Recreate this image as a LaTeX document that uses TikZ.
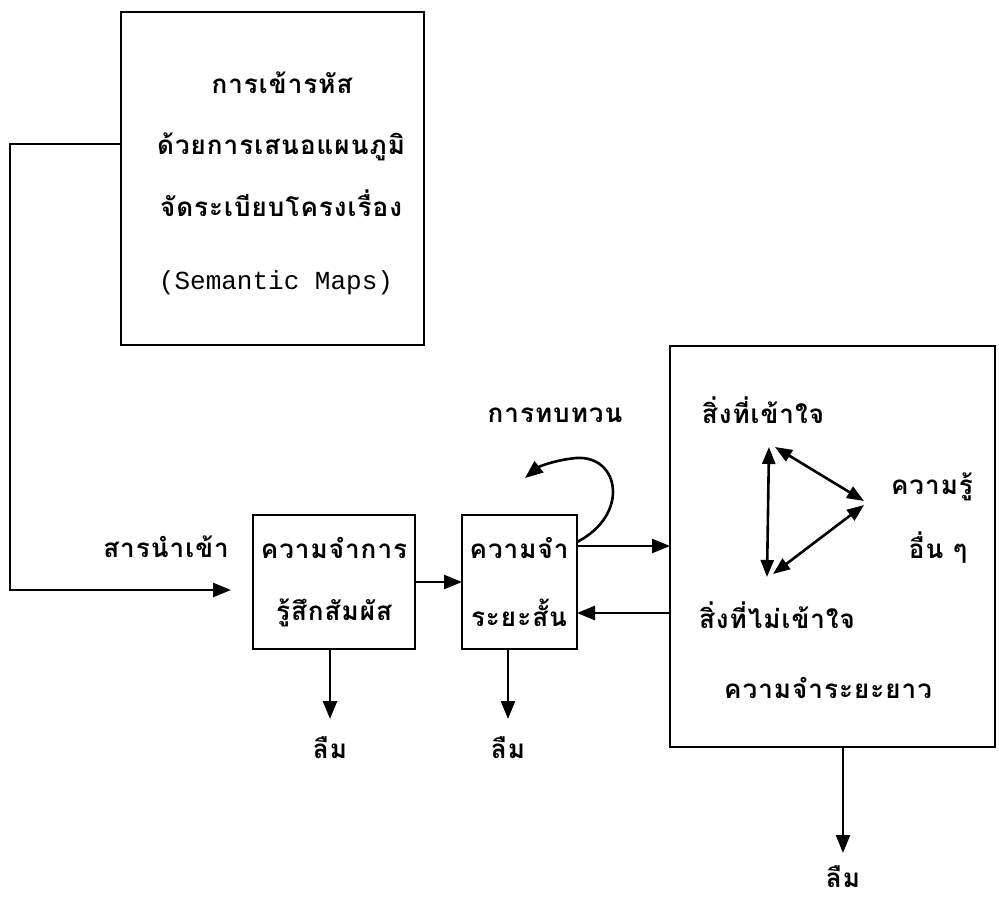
\documentclass[tikz,border=0pt]{standalone}
\usepackage{fontspec}
\newfontfamily\thaifont[Script=Thai,LetterSpace=4]{Loma}
\newfontfamily\latmono{Liberation Mono}
\usetikzlibrary{arrows.meta}
\tikzset{
  box/.style={draw, line width=2.8pt, inner sep=0pt, outer sep=0pt},
  lbl/.style={font=\thaifont\bfseries\fontsize{26}{30}\selectfont, inner sep=0pt},
  arr/.style={line width=2.6pt, -{Triangle[length=18pt,width=14pt]}},
  darr/.style={line width=2.6pt, {Triangle[length=17pt,width=13pt]}-{Triangle[length=17pt,width=13pt]}}
}
\begin{document}
\begin{tikzpicture}[x=1pt,y=-1pt]
\useasboundingbox (0,0) rectangle (999,899);
% boxes
\node[box, minimum width=303pt, minimum height=333pt, anchor=north west] (enc) at (121,12) {};
\node[box, minimum width=162pt, minimum height=134pt, anchor=north west] (sens) at (253,515) {};
\node[box, minimum width=115pt, minimum height=134pt, anchor=north west] (stm) at (462,515) {};
\node[box, minimum width=325pt, minimum height=401pt, anchor=north west] (ltm) at (670,346) {};
% encoding box texts
\node[lbl] (e1) at (282,83) {การเข้ารหัส};
\node[lbl] (e2) at (281,147) {ด้วยการเสนอแผนภูมิ};
\node[lbl] (e3) at (281,203) {จัดระเบียบโครงเรื่อง};
\node[lbl, font=\latmono\fontsize{26}{30}\selectfont] (e4) at (276,283) {(Semantic Maps)};
% input
\node[lbl] (inp) at (166,547) {สารนำเข้า};
\coordinate (c1) at (10,144);
\coordinate (c2) at (10,590);
\coordinate (inend) at (231,590);
\draw[arr] (enc.west |- c1) -- (c1) -- (c2) -- (inend);
% sensory
\node[lbl] (s1) at (334,548) {ความจำการ};
\node[lbl] (s2) at (334,613) {รู้สึกสัมผัส};
% short term
\node[lbl] (m1) at (519,548) {ความจำ};
\node[lbl] (m2) at (519,613) {ระยะสั้น};
\node[lbl] (rev) at (555,415) {การทบทวน};
% long term
\node[lbl] (l1) at (763,410) {สิ่งที่เข้าใจ};
\node[lbl] (l2) at (932,487) {ความรู้};
\node[lbl] (l3) at (938,548) {อื่น ๆ};
\node[lbl] (l4) at (777,615) {สิ่งที่ไม่เข้าใจ};
\node[lbl] (l5) at (828,688) {ความจำระยะยาว};
% forget
\node[lbl] (f1) at (330,748) {ลืม};
\node[lbl] (f2) at (508,748) {ลืม};
\node[lbl] (f3) at (843,877) {ลืม};
% connectors
\draw[arr] (sens.east) -- (stm.west);
\coordinate (ya) at (0,546);
\coordinate (yb) at (0,613);
\draw[arr] (stm.east |- ya) -- (ltm.west |- ya);
\draw[arr] (ltm.west |- yb) -- (stm.east |- yb);
\coordinate (ls) at (0,542);
\coordinate (le) at (525,478);
\draw[arr] (stm.east |- ls) .. controls (630,515) and (620,455) .. (576,458) .. controls (556,460) and (540,466) .. (le);
\coordinate (d1) at (330,719);
\coordinate (d2) at (508,719);
\coordinate (d3) at (843,853);
\draw[arr] (sens.south -| d1) -- (d1);
\draw[arr] (stm.south -| d2) -- (d2);
\draw[arr] (ltm.south -| d3) -- (d3);
% triangle
\coordinate (t1) at (769,447);
\coordinate (t2) at (767,577);
\coordinate (t3a) at (864,501);
\coordinate (t3b) at (864,505);
\coordinate (t1b) at (775,447);
\coordinate (t2b) at (773,574);
\draw[darr] (t1) -- (t2);
\draw[darr] (t1b) -- (t3a);
\draw[darr] (t3b) -- (t2b);
\end{tikzpicture}
\end{document}
